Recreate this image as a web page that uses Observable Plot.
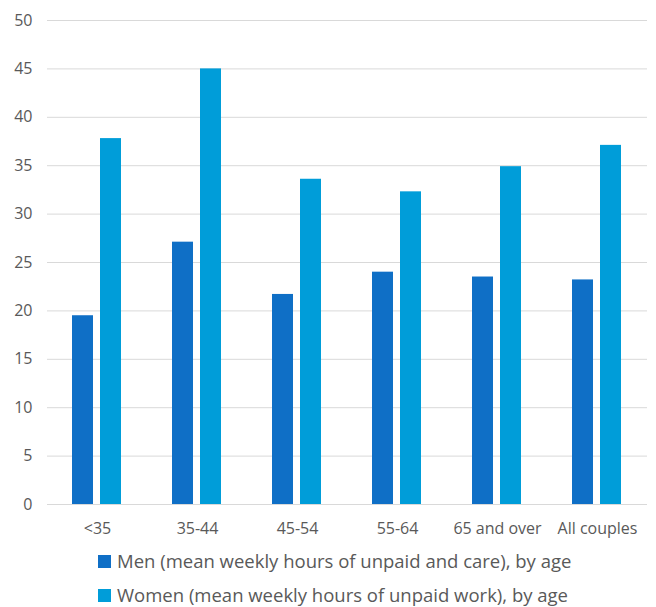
<!DOCTYPE html>
<html>
<head>
<meta charset="utf-8">
<script src="https://cdn.jsdelivr.net/npm/d3@7"></script>
<script src="https://cdn.jsdelivr.net/npm/@observablehq/plot@0.6"></script>
<style>
  html, body { margin: 0; padding: 0; background: #fff; }
  #wrap { position: relative; width: 656px; height: 607px; overflow: hidden; font-family: "Open Sans", sans-serif; }
  #legend { position: absolute; left: 98px; top: 544px; }
  .row { display: flex; align-items: center; height: 34px; font-size: 18.5px; line-height: 20px; color: #595959; white-space: nowrap; }
  .sw { width: 13px; height: 13px; margin-right: 6px; flex: none; }
</style>
</head>
<body>
<div id="wrap">
  <div id="chart"></div>
  <div id="legend"></div>
</div>
<script>
const categories = ["<35", "35-44", "45-54", "55-64", "65 and over", "All couples"];
const seriesNames = [
  "Men (mean weekly hours of unpaid and care), by age",
  "Women (mean weekly hours of unpaid work), by age"
];
const men = [19.5, 27.1, 21.7, 24.0, 23.5, 23.2];
const women = [37.8, 45.0, 33.6, 32.3, 34.9, 37.1];
const yTicks = [0, 5, 10, 15, 20, 25, 30, 35, 40, 45, 50];
const colors = ["#0F6FC6", "#009DD9"];

const data = categories.flatMap((c, i) => [
  {cat: c, series: seriesNames[0], value: men[i]},
  {cat: c, series: seriesNames[1], value: women[i]}
]);

const chart = Plot.plot({
  width: 656,
  height: 545,
  marginLeft: 47,
  marginRight: 9,
  marginTop: 20,
  marginBottom: 41,
  style: {fontFamily: "Open Sans, sans-serif", fontSize: "16px", color: "#595959", background: "#fff"},
  fx: {domain: categories, padding: 0, label: null},
  x: {domain: seriesNames, paddingInner: 0.24, paddingOuter: 0.845, axis: null},
  y: {domain: [0, 50], label: null},
  color: {domain: seriesNames, range: colors},
  marks: [
    Plot.gridY(yTicks, {stroke: "#D9D9D9", strokeOpacity: 1, strokeWidth: 1}),
    Plot.barY(data, {fx: "cat", x: "series", y: "value", fill: "series"}),
    Plot.axisY(yTicks, {tickSize: 0, tickPadding: 15, label: null, fill: "#595959", fontSize: 16}),
    Plot.axisFx({tickSize: 0, tickPadding: 18, label: null, anchor: "bottom", fill: "#595959", fontSize: 16})
  ]
});
document.getElementById("chart").appendChild(chart);

const legend = d3.select("#legend");
seriesNames.forEach((name, i) => {
  const row = legend.append("div").attr("class", "row");
  row.append("div").attr("class", "sw").style("background", colors[i]);
  row.append("span").text(name);
});
</script>
</body>
</html>
